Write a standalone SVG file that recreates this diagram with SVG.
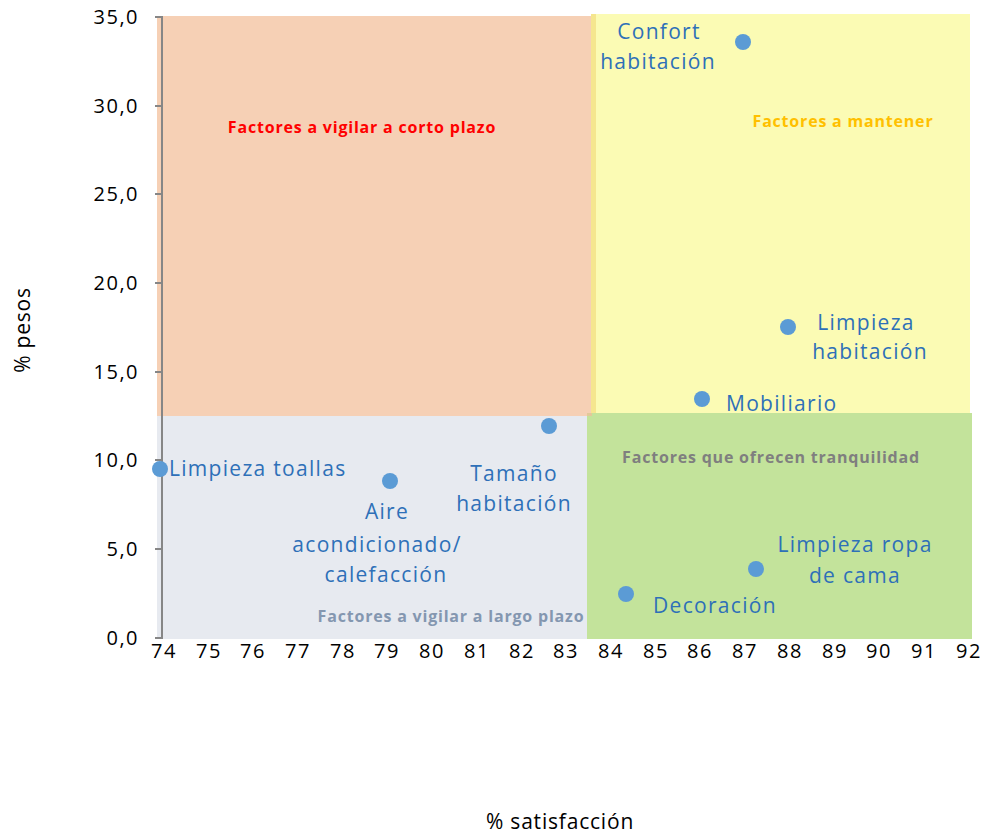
<svg xmlns="http://www.w3.org/2000/svg" width="985" height="835" viewBox="0 0 985 835">
<style>
.tick{font-family:"Open Sans","Noto Sans",sans-serif;font-size:20px;fill:#000;letter-spacing:1.5px}
.lbl{font-family:"Open Sans","Noto Sans",sans-serif;font-size:21px;fill:#2E70B8;letter-spacing:1.3px}
.q{font-family:"Open Sans","Noto Sans",sans-serif;font-size:16px;font-weight:bold;text-anchor:middle;letter-spacing:0.8px}
.ax{font-family:"Open Sans","Noto Sans",sans-serif;font-size:21px;fill:#000;letter-spacing:0.8px}
.pt{fill:#5B9BD5}
</style>
<rect width="985" height="835" fill="#fff"/>
<g id="quadrants">
<rect id="q-corto" x="157" y="16" width="435" height="400" fill="#F6D0B5"/>
<rect id="q-mantener" x="591" y="14" width="379" height="400" fill="#FBFBB4"/>
<rect x="591" y="14" width="5" height="400" fill="#F5E68F"/>
<rect id="q-largo" x="157" y="416" width="431" height="223" fill="#E7EAF0"/>
<rect id="q-tranq" x="587" y="413" width="385" height="226" fill="#C3E39B"/>
<rect x="587" y="413" width="5" height="3" fill="#E2C99A"/>
</g>
<g id="axis" stroke="#868686" stroke-width="2" fill="none">
<line x1="162" y1="16" x2="162" y2="639"/>
<path d="M155 17H162M155 106H162M155 194H162M155 283H162M155 372H162M155 460H162M155 549H162M155 638H162"/>
</g>
<g id="yticks" text-anchor="end">
<text class="tick" x="139" y="24">35,0</text>
<text class="tick" x="139" y="113">30,0</text>
<text class="tick" x="139" y="201">25,0</text>
<text class="tick" x="139" y="290">20,0</text>
<text class="tick" x="139" y="379">15,0</text>
<text class="tick" x="139" y="467">10,0</text>
<text class="tick" x="139" y="556">5,0</text>
<text class="tick" x="139" y="645">0,0</text>
</g>
<g id="xticks" text-anchor="middle">
<text class="tick" x="164" y="658">74</text>
<text class="tick" x="209" y="658">75</text>
<text class="tick" x="253" y="658">76</text>
<text class="tick" x="298" y="658">77</text>
<text class="tick" x="343" y="658">78</text>
<text class="tick" x="387" y="658">79</text>
<text class="tick" x="432" y="658">80</text>
<text class="tick" x="477" y="658">81</text>
<text class="tick" x="522" y="658">82</text>
<text class="tick" x="566" y="658">83</text>
<text class="tick" x="611" y="658">84</text>
<text class="tick" x="656" y="658">85</text>
<text class="tick" x="700" y="658">86</text>
<text class="tick" x="745" y="658">87</text>
<text class="tick" x="790" y="658">88</text>
<text class="tick" x="835" y="658">89</text>
<text class="tick" x="879" y="658">90</text>
<text class="tick" x="924" y="658">91</text>
<text class="tick" x="969" y="658">92</text>
</g>
<g id="axis-titles">
<text class="ax" x="560" y="829" text-anchor="middle">% satisfacción</text>
<text class="ax" transform="translate(30,330) rotate(-90)" text-anchor="middle">% pesos</text>
</g>
<g id="quadrant-labels">
<text class="q" x="362" y="133" fill="#FF0000">Factores a vigilar a corto plazo</text>
<text class="q" x="843" y="127" fill="#FFC000">Factores a mantener</text>
<text class="q" x="771" y="463" fill="#7F7F7F">Factores que ofrecen tranquilidad</text>
<text class="q" x="451" y="622" fill="#8497B0">Factores a vigilar a largo plazo</text>
</g>
<g id="p-toallas"><circle class="pt" cx="160" cy="469" r="8"/><text class="lbl" x="169" y="476">Limpieza toallas</text></g>
<g id="p-aire"><circle class="pt" cx="390" cy="481" r="8"/><text class="lbl" text-anchor="middle"><tspan x="387" y="519">Aire</tspan><tspan x="377" y="552">acondicionado/</tspan><tspan x="386" y="582">calefacción</tspan></text></g>
<g id="p-tamano"><circle class="pt" cx="549" cy="426" r="8"/><text class="lbl" text-anchor="middle"><tspan x="514" y="481">Tamaño</tspan><tspan x="514" y="511">habitación</tspan></text></g>
<g id="p-confort"><circle class="pt" cx="743" cy="42" r="8"/><text class="lbl" text-anchor="middle"><tspan x="659" y="39">Confort</tspan><tspan x="658" y="69">habitación</tspan></text></g>
<g id="p-limphab"><circle class="pt" cx="788" cy="327" r="8"/><text class="lbl" text-anchor="middle"><tspan x="866" y="330">Limpieza</tspan><tspan x="870" y="359">habitación</tspan></text></g>
<g id="p-mobiliario"><circle class="pt" cx="702" cy="399" r="8"/><text class="lbl" x="726" y="411">Mobiliario</text></g>
<g id="p-ropa"><circle class="pt" cx="756" cy="569" r="8"/><text class="lbl" text-anchor="middle"><tspan x="855" y="552">Limpieza ropa</tspan><tspan x="855" y="583">de cama</tspan></text></g>
<g id="p-decoracion"><circle class="pt" cx="626" cy="594" r="8"/><text class="lbl" x="653" y="613">Decoración</text></g>
</svg>
